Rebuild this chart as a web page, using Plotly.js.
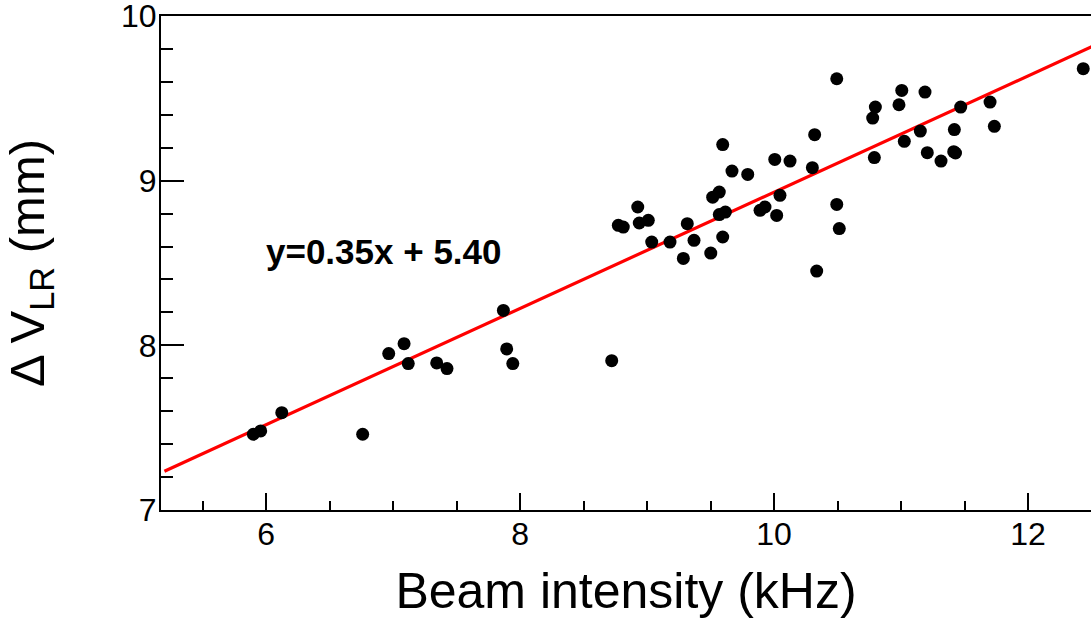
<!DOCTYPE html>
<html>
<head>
<meta charset="utf-8">
<script src="https://cdn.plot.ly/plotly-3.0.1.min.js"></script>
<style>
html,body{margin:0;padding:0;background:#fff;overflow:hidden;}
#chart{width:1091px;height:623px;}
</style>
</head>
<body>
<div id="chart"></div>
<script>
// Beam intensity (kHz)
const beamIntensity = [5.900, 5.958, 6.124, 6.761, 6.966, 7.087, 7.120, 7.344, 7.425, 7.869,
  7.895, 7.943, 8.722, 8.774, 8.813, 8.927, 8.939, 9.010, 9.037, 9.181,
  9.286, 9.317, 9.370, 9.502, 9.517, 9.569, 9.569, 9.617, 9.596, 9.890,
  9.929, 10.021, 10.047, 9.596, 9.669, 9.793, 10.006, 10.126, 10.320, 10.302,
  10.494, 10.494, 10.514, 10.336, 10.777, 10.798, 10.790, 10.984, 11.006, 11.189,
  11.026, 11.152, 11.207, 11.315, 11.415, 11.429, 11.420, 11.470, 11.701, 11.735,
  12.435];
// Delta V_LR (mm)
const deltaVLR = [7.460, 7.480, 7.591, 7.460, 7.950, 8.010, 7.889, 7.893, 7.859, 8.212,
  7.978, 7.889, 7.907, 8.729, 8.718, 8.840, 8.743, 8.759, 8.627, 8.627,
  8.528, 8.739, 8.638, 8.560, 8.900, 8.931, 8.794, 8.809, 8.658, 8.820,
  8.840, 8.789, 8.911, 9.219, 9.058, 9.038, 9.129, 9.119, 9.279, 9.079,
  9.619, 8.856, 8.709, 8.451, 9.380, 9.447, 9.140, 9.461, 9.548, 9.538,
  9.239, 9.301, 9.170, 9.119, 9.176, 9.168, 9.310, 9.447, 9.477, 9.330,
  9.680];
// Linear fit
const fitSlope = 0.353;
const fitIntercept = 5.40;
const fitRange = [5.2, 12.7];
const fitLabel = "y=0.35x + 5.40";
const xTicks = [6, 8, 10, 12];
const yTicks = [7, 8, 9, 10];

const fitX = fitRange;
const fitY = fitRange.map(x => fitSlope * x + fitIntercept);

const FONT = "'Liberation Sans', Arial, Helvetica, sans-serif";

const traces = [
  {
    x: fitX, y: fitY, type: 'scatter', mode: 'lines',
    line: {color: '#ff0000', width: 3.2}, hoverinfo: 'skip', showlegend: false
  },
  {
    x: beamIntensity, y: deltaVLR, type: 'scatter', mode: 'markers',
    marker: {color: '#000000', size: 13, line: {width: 0}}, showlegend: false, cliponaxis: true
  }
];

const layout = {
  width: 1091, height: 623,
  margin: {l: 161, r: 0, t: 16, b: 113, pad: 0},
  paper_bgcolor: '#ffffff', plot_bgcolor: '#ffffff',
  font: {family: FONT, color: '#000000', size: 31},
  showlegend: false,
  xaxis: {
    range: [5.173, 12.496],
    tickvals: xTicks, ticktext: xTicks.map(String),
    ticks: 'inside', ticklen: 17, tickwidth: 2, tickcolor: '#000',
    minor: {dtick: 0.5, tick0: 0, ticks: 'inside', ticklen: 9, tickwidth: 2, tickcolor: '#000'},
    showline: true, linecolor: '#000', linewidth: 2, mirror: true,
    showgrid: false, zeroline: false,
    tickfont: {family: FONT, size: 32, color: '#000'},
    ticklabelstandoff: -5, ticklabeloverflow: 'allow',
    title: {text: 'Beam intensity (kHz)', font: {family: FONT, size: 50, color: '#000'}, standoff: 22}
  },
  yaxis: {
    range: [7, 10],
    tickvals: yTicks, ticktext: yTicks.map(String),
    ticks: 'inside', ticklen: 23, tickwidth: 2, tickcolor: '#000',
    minor: {dtick: 0.2, tick0: 0, ticks: 'inside', ticklen: 12, tickwidth: 2, tickcolor: '#000'},
    showline: true, linecolor: '#000', linewidth: 2, mirror: false,
    showgrid: false, zeroline: false,
    tickfont: {family: FONT, size: 32, color: '#000'},
    ticklabelstandoff: -4, ticklabeloverflow: 'allow',
    title: {text: 'Δ V<sub>LR</sub> (mm)', font: {family: FONT, size: 49, color: '#000'}, standoff: 66}
  },
  annotations: [
    {
      xref: 'paper', yref: 'paper', x: 0.111, y: 0.524,
      xanchor: 'left', yanchor: 'middle', showarrow: false,
      text: '<b>' + fitLabel + '</b>',
      font: {family: FONT, size: 35, color: '#000'}
    }
  ]
};

Plotly.newPlot('chart', traces, layout, {staticPlot: true, displayModeBar: false});
</script>
</body>
</html>
